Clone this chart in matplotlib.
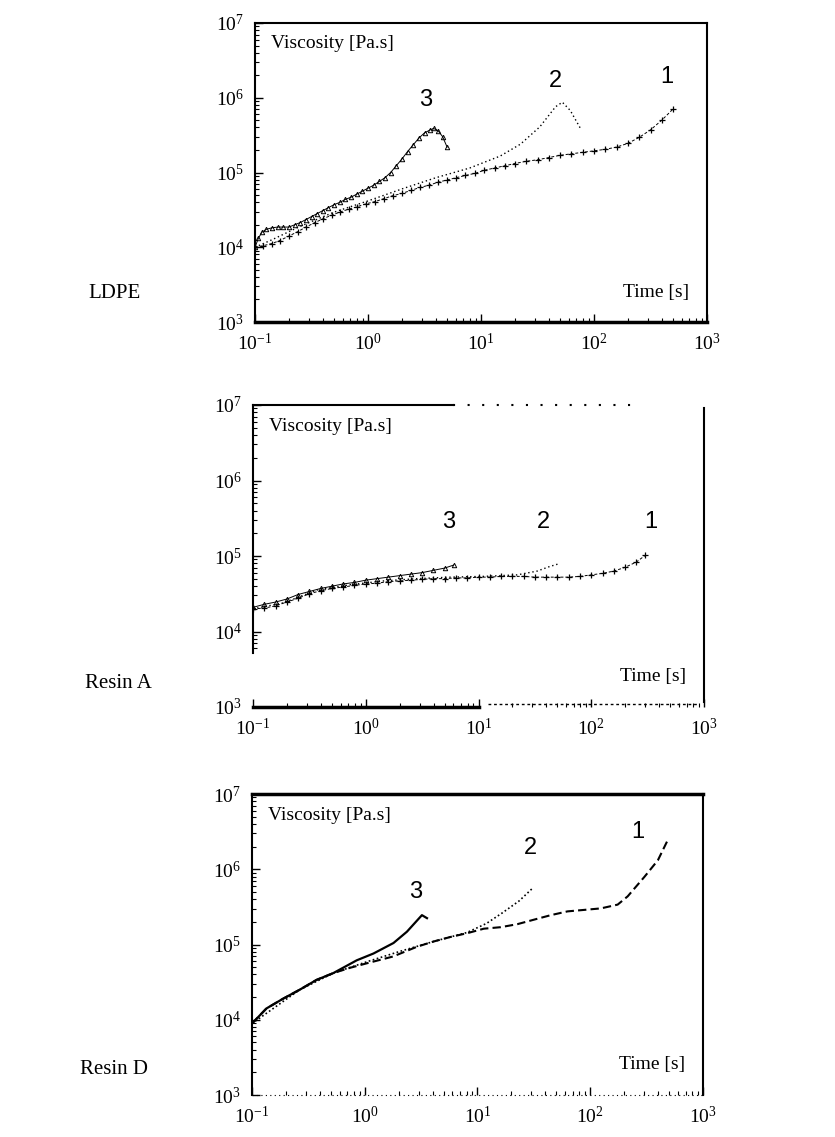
import numpy as np
import matplotlib
matplotlib.use("Agg")
import matplotlib.pyplot as plt
from matplotlib.ticker import LogLocator, FixedLocator, NullFormatter

plt.rcParams['font.family'] = ['Liberation Serif', 'DejaVu Serif']
plt.rcParams['mathtext.fontset'] = 'stix'

# ---------------- data (log10 time, log10 viscosity) ----------------
# LDPE
ldpe1_logt = [-1.0, -0.93, -0.85, -0.78, -0.70, -0.62, -0.55, -0.47, -0.40, -0.32, -0.25, -0.17, -0.10, -0.02,
              0.06, 0.14, 0.22, 0.30, 0.38, 0.46, 0.54, 0.62, 0.70, 0.78, 0.86, 0.95, 1.03, 1.12, 1.21, 1.30,
              1.40, 1.50, 1.60, 1.70, 1.80, 1.90, 2.00, 2.10, 2.20, 2.30, 2.40, 2.50, 2.60, 2.70]
ldpe1_logv = [4.00, 4.02, 4.05, 4.09, 4.15, 4.21, 4.27, 4.33, 4.38, 4.43, 4.47, 4.51, 4.54, 4.58,
              4.61, 4.65, 4.69, 4.72, 4.76, 4.80, 4.83, 4.87, 4.90, 4.93, 4.96, 4.99, 5.03, 5.06, 5.09, 5.12,
              5.15, 5.17, 5.20, 5.23, 5.25, 5.27, 5.29, 5.31, 5.34, 5.39, 5.47, 5.57, 5.70, 5.85]
ldpe2_logt = [-1.0, -0.85, -0.6, -0.3, 0.0, 0.3, 0.6, 0.9, 1.17, 1.35, 1.52, 1.66, 1.72, 1.79, 1.88]
ldpe2_logv = [4.00, 4.10, 4.28, 4.47, 4.62, 4.78, 4.93, 5.06, 5.22, 5.38, 5.61, 5.88, 5.94, 5.83, 5.59]
ldpe3_logt = [-1.0, -0.97, -0.94, -0.90, -0.85, -0.80, -0.75, -0.70, -0.65, -0.60, -0.55, -0.50, -0.45, -0.40,
              -0.35, -0.30, -0.25, -0.20, -0.15, -0.10, -0.05, 0.0, 0.05, 0.10, 0.15, 0.20, 0.25, 0.30, 0.35,
              0.40, 0.45, 0.50, 0.55, 0.58, 0.62, 0.66, 0.70]
ldpe3_logv = [4.00, 4.12, 4.20, 4.24, 4.26, 4.27, 4.27, 4.27, 4.30, 4.33, 4.37, 4.41, 4.45, 4.49,
              4.53, 4.57, 4.60, 4.64, 4.67, 4.71, 4.75, 4.79, 4.83, 4.88, 4.93, 5.00, 5.09, 5.18, 5.28,
              5.37, 5.46, 5.53, 5.57, 5.59, 5.56, 5.48, 5.34]

# Resin A
ra1_logt = [-1.0, -0.9, -0.8, -0.7, -0.6, -0.5, -0.4, -0.3, -0.2, -0.1, 0.0, 0.1, 0.2, 0.3, 0.4, 0.5, 0.6,
            0.7, 0.8, 0.9, 1.0, 1.1, 1.2, 1.3, 1.4, 1.5, 1.6, 1.7, 1.8, 1.9, 2.0, 2.1, 2.2, 2.3, 2.4, 2.48]
ra1_logv = [4.30, 4.31, 4.34, 4.39, 4.44, 4.50, 4.54, 4.57, 4.59, 4.61, 4.63, 4.64, 4.66, 4.67, 4.68, 4.69, 4.70,
            4.70, 4.71, 4.71, 4.72, 4.72, 4.73, 4.73, 4.73, 4.72, 4.72, 4.72, 4.72, 4.73, 4.75, 4.77, 4.80, 4.85, 4.92, 5.01]
ra2_logt = [-1.0, -0.728, -0.432, -0.136, 0.16, 0.456, 0.751, 1.047, 1.343, 1.52, 1.63, 1.72]
ra2_logv = [4.30, 4.38, 4.55, 4.62, 4.67, 4.70, 4.72, 4.73, 4.75, 4.80, 4.86, 4.90]
ra3_logt = [-1.0, -0.9, -0.8, -0.7, -0.6, -0.5, -0.4, -0.3, -0.2, -0.1, 0.0, 0.1, 0.2, 0.3, 0.4, 0.5, 0.6, 0.7, 0.78]
ra3_logv = [4.32, 4.36, 4.39, 4.43, 4.49, 4.53, 4.57, 4.60, 4.63, 4.65, 4.68, 4.70, 4.72, 4.74, 4.76, 4.78, 4.81, 4.84, 4.88]

# Resin D
rd1_logt = [-1.0, -0.872, -0.724, -0.576, -0.427, -0.279, -0.131, 0.018, 0.25, 0.463, 0.611, 0.76, 0.908, 1.056, 1.205, 1.353, 1.501, 1.65, 1.798, 1.947, 2.095, 2.243, 2.332, 2.481, 2.6, 2.688]
rd1_logv = [3.95, 4.15, 4.28, 4.40, 4.53, 4.62, 4.69, 4.75, 4.84, 4.97, 5.04, 5.10, 5.15, 5.21, 5.23, 5.27, 5.33, 5.39, 5.44, 5.46, 5.48, 5.53, 5.64, 5.90, 6.12, 6.39]
rd2_logt = [-1.0, -0.576, -0.279, 0.018, 0.315, 0.611, 0.908, 1.08, 1.22, 1.37, 1.49]
rd2_logv = [3.95, 4.40, 4.62, 4.77, 4.91, 5.04, 5.16, 5.28, 5.42, 5.58, 5.75]
rd3_logt = [-1.0, -0.872, -0.724, -0.576, -0.427, -0.279, -0.071, 0.077, 0.255, 0.374, 0.507, 0.552]
rd3_logv = [3.95, 4.15, 4.28, 4.40, 4.53, 4.62, 4.79, 4.88, 5.02, 5.17, 5.39, 5.35]

panel_names = ["LDPE", "Resin A", "Resin D"]
curve_labels = ["1", "2", "3"]
label_pos = [
    [(2.646, 6.28), (1.657, 6.23), (0.506, 5.97)],
    [(2.527, 5.45), (1.58, 5.45), (0.737, 5.45)],
    [(2.42, 6.50), (1.47, 6.28), (0.448, 5.70)],
]
x_ticks = [1e-1, 1e0, 1e1, 1e2, 1e3]
y_ticks = [1e3, 1e4, 1e5, 1e6, 1e7]
xlabel = "Time [s]"
ylabel = "Viscosity [Pa.s]"

W, H = 835, 1137
fig = plt.figure(figsize=(W / 100, H / 100), dpi=100)

rects_px = [(255, 23, 707, 322), (253, 405, 704, 707), (252, 794, 703, 1095)]
name_px = [(88, 293), (85, 683), (80, 1070)]

def to_lin(a):
    return 10 ** np.asarray(a)

series = [
    [(ldpe1_logt, ldpe1_logv), (ldpe2_logt, ldpe2_logv), (ldpe3_logt, ldpe3_logv)],
    [(ra1_logt, ra1_logv), (ra2_logt, ra2_logv), (ra3_logt, ra3_logv)],
    [(rd1_logt, rd1_logv), (rd2_logt, rd2_logv), (rd3_logt, rd3_logv)],
]

minor_y_all = [k * 10.0 ** e for e in range(3, 7) for k in range(2, 10)]

for i, (l, t, r, b) in enumerate(rects_px):
    ax = fig.add_axes([l / W, 1 - b / H, (r - l) / W, (b - t) / H])
    ax.set_xscale('log')
    ax.set_yscale('log')
    ax.set_xlim(1e-1, 1e3)
    ax.set_ylim(1e3, 1e7)

    s1, s2, s3 = series[i]
    if i < 2:
        ax.plot(to_lin(s1[0]), to_lin(s1[1]), color='black', lw=0.7, ls=(0, (3, 2)),
                marker='+', ms=4.5, mew=0.9)
        ax.plot(to_lin(s2[0]), to_lin(s2[1]), color='black', lw=1.0, ls=(0, (1, 2)))
        ax.plot(to_lin(s3[0]), to_lin(s3[1]), color='black', lw=0.7, ls='-',
                marker='^', ms=3.2, mfc='none', mew=0.7)
    else:
        ax.plot(to_lin(s1[0]), to_lin(s1[1]), color='black', lw=1.5, ls=(0, (4, 2)))
        ax.plot(to_lin(s2[0]), to_lin(s2[1]), color='black', lw=1.2, ls=(0, (1, 1.5)))
        ax.plot(to_lin(s3[0]), to_lin(s3[1]), color='black', lw=1.6, ls='-')

    for lab, (lx, ly) in zip(curve_labels, label_pos[i]):
        ax.text(10 ** lx, 10 ** ly, lab, family=['Liberation Sans', 'DejaVu Sans'],
                fontsize=17, ha='center', va='center')

    ax.text(0.035, 0.93, ylabel, transform=ax.transAxes, fontsize=14, ha='left', va='center')
    ax.text(0.96, 0.1, xlabel, transform=ax.transAxes, fontsize=14, ha='right', va='center')

    ax.xaxis.set_major_locator(FixedLocator(x_ticks))
    ax.yaxis.set_major_locator(FixedLocator(y_ticks))
    ax.xaxis.set_minor_locator(LogLocator(base=10, subs=np.arange(2, 10), numticks=20))
    if i == 1:
        ax.yaxis.set_minor_locator(FixedLocator([v for v in minor_y_all if v > 10 ** 3.75]))
    else:
        ax.yaxis.set_minor_locator(FixedLocator(minor_y_all))
    ax.xaxis.set_minor_formatter(NullFormatter())
    ax.yaxis.set_minor_formatter(NullFormatter())
    ax.tick_params(axis='both', which='major', direction='in', length=6, width=1.0,
                   labelsize=14, pad=8, top=False, right=False)
    ax.tick_params(axis='both', which='minor', direction='in', length=3, width=0.8,
                   top=False, right=False)

    for sp in ax.spines.values():
        sp.set_linewidth(1.5)
        sp.set_color('black')
    if i == 0:
        ax.spines['bottom'].set_linewidth(2.5)
    elif i == 1:
        for k in ['top', 'bottom', 'left', 'right']:
            ax.spines[k].set_visible(False)
        kw = dict(transform=ax.transAxes, color='black', clip_on=False)
        ax.plot([0, 0.443], [1, 1], lw=1.5, **kw)
        ax.plot([0.443, 0.858], [1, 1], lw=1.5, ls=(0, (1, 6)), **kw)
        ax.plot([0, 0.5], [0, 0], lw=2.5, **kw)
        ax.plot([0.52, 0.985], [0.01, 0.01], lw=1.0, ls=(0, (2, 2)), **kw)
        ax.plot([0, 0], [0.18, 1], lw=1.5, **kw)
        ax.plot([1, 1], [0.015, 0.99], lw=1.5, **kw)
    else:
        ax.spines['top'].set_linewidth(2.5)
        ax.spines['bottom'].set_visible(False)
        ax.plot([0, 1], [0, 0], transform=ax.transAxes, color='black', lw=0.8,
                ls=(0, (1, 3)), clip_on=False)

    fig.text(name_px[i][0] / W, 1 - name_px[i][1] / H, panel_names[i], fontsize=15,
             ha='left', va='center')

fig.savefig("out.png", dpi=100, facecolor='white')
